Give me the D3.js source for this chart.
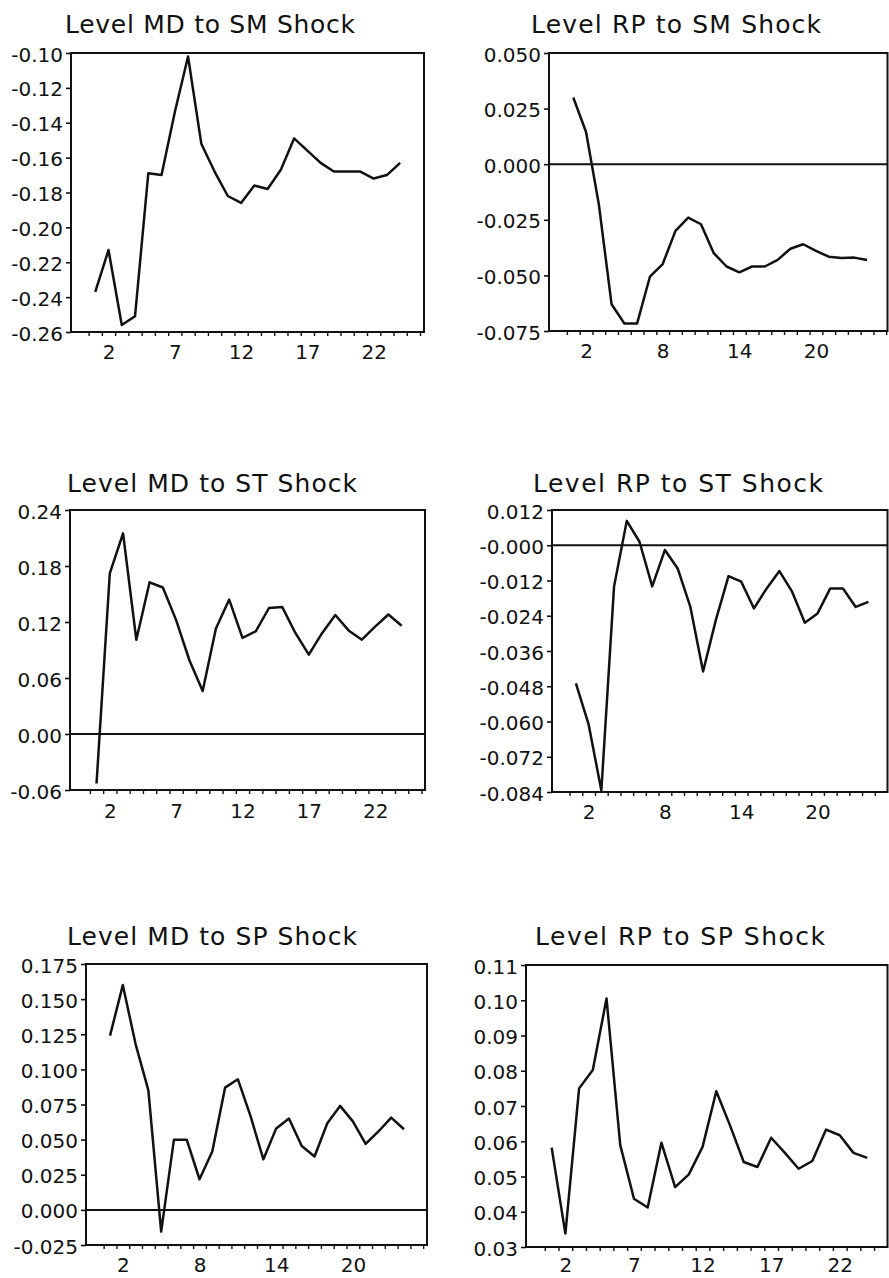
<!DOCTYPE html>
<html>
<head>
<meta charset="utf-8">
<script src="https://cdn.jsdelivr.net/npm/d3@7"></script>
<style>
  html, body { margin: 0; padding: 0; background: #fff; }
  svg { display: block; }
  text { font-family: "DejaVu Sans", sans-serif; fill: #111; }
</style>
</head>
<body>
<svg id="chart" width="889" height="1278"></svg>
<script>
// ---------------- DATA ----------------
const periods = [1,2,3,4,5,6,7,8,9,10,11,12,13,14,15,16,17,18,19,20,21,22,23,24];

const titles = [
  "Level MD to SM Shock", "Level RP to SM Shock",
  "Level MD to ST Shock", "Level RP to ST Shock",
  "Level MD to SP Shock", "Level RP to SP Shock"
];

const mdSM = [-0.237,-0.213,-0.256,-0.251,-0.169,-0.170,-0.134,-0.102,-0.152,-0.168,-0.182,-0.186,
              -0.176,-0.178,-0.167,-0.149,-0.156,-0.163,-0.168,-0.168,-0.168,-0.172,-0.170,-0.163];
const rpSM = [0.030,0.0145,-0.018,-0.063,-0.0716,-0.0716,-0.0506,-0.0449,-0.030,-0.024,-0.027,-0.040,
              -0.046,-0.0486,-0.046,-0.046,-0.043,-0.038,-0.036,-0.039,-0.0416,-0.0422,-0.042,-0.0431];
const mdST = [-0.053,0.172,0.215,0.101,0.1625,0.157,0.122,0.079,0.046,0.113,0.144,0.103,
              0.110,0.135,0.136,0.108,0.085,0.108,0.1275,0.111,0.101,0.115,0.128,0.116];
const rpST = [-0.047,-0.061,-0.0835,-0.014,0.0083,0.0012,-0.014,-0.0016,-0.0079,-0.021,-0.043,-0.0255,
              -0.0105,-0.0124,-0.0215,-0.0147,-0.0088,-0.0158,-0.0264,-0.0232,-0.0147,-0.0147,-0.021,-0.0193];
const mdSP = [0.124,0.160,0.118,0.085,-0.0155,0.050,0.050,0.0218,0.0415,0.087,0.093,0.0665,
              0.036,0.058,0.065,0.0455,0.038,0.0617,0.074,0.063,0.047,0.0558,0.0657,0.0574];
const rpSP = [0.0582,0.0338,0.075,0.0802,0.1005,0.0589,0.0437,0.0412,0.0596,0.047,0.0506,0.0584,
              0.0742,0.0645,0.0541,0.0527,0.061,0.0567,0.0522,0.0544,0.0633,0.0617,0.0567,0.0553];

const yTicksMdSM  = [-0.10,-0.12,-0.14,-0.16,-0.18,-0.20,-0.22,-0.24,-0.26];
const yLabelsMdSM = ["-0.10","-0.12","-0.14","-0.16","-0.18","-0.20","-0.22","-0.24","-0.26"];
const yTicksRpSM  = [0.050,0.025,0.000,-0.025,-0.050,-0.075];
const yLabelsRpSM = ["0.050","0.025","0.000","-0.025","-0.050","-0.075"];
const yTicksMdST  = [0.24,0.18,0.12,0.06,0.00,-0.06];
const yLabelsMdST = ["0.24","0.18","0.12","0.06","0.00","-0.06"];
const yTicksRpST  = [0.012,0.000,-0.012,-0.024,-0.036,-0.048,-0.060,-0.072,-0.084];
const yLabelsRpST = ["0.012","-0.000","-0.012","-0.024","-0.036","-0.048","-0.060","-0.072","-0.084"];
const yTicksMdSP  = [0.175,0.150,0.125,0.100,0.075,0.050,0.025,0.000,-0.025];
const yLabelsMdSP = ["0.175","0.150","0.125","0.100","0.075","0.050","0.025","0.000","-0.025"];
const yTicksRpSP  = [0.11,0.10,0.09,0.08,0.07,0.06,0.05,0.04,0.03];
const yLabelsRpSP = ["0.11","0.10","0.09","0.08","0.07","0.06","0.05","0.04","0.03"];

const xTicksA = [2,7,12,17,22];
const xTicksB = [2,8,14,20];
const minorTicks = [0.5,1.5,2.5,3.5,4.5,5.5,6.5,7.5,8.5,9.5,10.5,11.5,12.5,13.5,14.5,15.5,16.5,17.5,18.5,19.5,20.5,21.5,22.5,23.5,24.5,25.5];

// ---------------- LAYOUT ----------------
const panels = [
  {title: titles[0], data: mdSM, yT: yTicksMdSM, yL: yLabelsMdSM, xT: xTicksA, zero: false,
   box: {l: 71, r: 424, t: 53, b: 332}, xd: [-0.83, 25.8], tx: 210, ty: 33, xpad: 13},
  {title: titles[1], data: rpSM, yT: yTicksRpSM, yL: yLabelsRpSM, xT: xTicksB, zero: true,
   box: {l: 549, r: 887.5, t: 53, b: 331}, xd: [-0.9, 25.6], tx: 676, ty: 33, xpad: 13},
  {title: titles[2], data: mdST, yT: yTicksMdST, yL: yLabelsMdST, xT: xTicksA, zero: true,
   box: {l: 70, r: 425, t: 510, b: 790}, xd: [-1.0, 25.76], tx: 212, ty: 492, xpad: 14},
  {title: titles[3], data: rpST, yT: yTicksRpST, yL: yLabelsRpST, xT: xTicksB, zero: true,
   box: {l: 552, r: 887.5, t: 510, b: 792}, xd: [-0.88, 25.5], tx: 678, ty: 492, xpad: 13},
  {title: titles[4], data: mdSP, yT: yTicksMdSP, yL: yLabelsMdSP, xT: xTicksB, zero: true,
   box: {l: 86, r: 427, t: 964, b: 1245}, xd: [-0.88, 25.8], tx: 212, ty: 945, xpad: 13},
  {title: titles[5], data: rpSP, yT: yTicksRpSP, yL: yLabelsRpSP, xT: xTicksA, zero: false,
   box: {l: 526, r: 887.5, t: 965, b: 1247}, xd: [-0.87, 25.48], tx: 680, ty: 945, xpad: 11}
];

const svg = d3.select("#chart");

panels.forEach(p => {
  const g = svg.append("g");
  const b = p.box;
  const yMin = d3.min(p.yT), yMax = d3.max(p.yT);
  const x = d3.scaleLinear().domain(p.xd).range([b.l, b.r]);
  const y = d3.scaleLinear().domain([yMin, yMax]).range([b.b, b.t]);

  // title
  g.append("text")
    .attr("x", p.tx).attr("y", p.ty)
    .attr("text-anchor", "middle")
    .attr("font-size", 25)
    .attr("textLength", 290)
    .attr("lengthAdjust", "spacing")
    .text(p.title);

  // y axis
  const yAxis = d3.axisLeft(y)
    .tickValues(p.yT)
    .tickFormat((d, i) => p.yL[i])
    .tickSize(5).tickPadding(3);
  const ya = g.append("g").attr("transform", `translate(${b.l},0)`).call(yAxis);
  ya.select(".domain").remove();
  ya.selectAll(".tick line").attr("stroke", "#111").attr("stroke-width", 1.6);
  ya.selectAll(".tick text")
    .attr("font-size", 20).attr("font-family", "DejaVu Sans, sans-serif")
    .attr("fill", "#111").attr("dy", "0.4em");

  // x minor ticks
  const xMinor = d3.axisBottom(x)
    .tickValues(minorTicks.filter(v => v > p.xd[0] && v < p.xd[1]))
    .tickFormat("")
    .tickSize(4);
  const xm = g.append("g").attr("transform", `translate(0,${b.b})`).call(xMinor);
  xm.select(".domain").remove();
  xm.selectAll(".tick line").attr("stroke", "#111").attr("stroke-width", 1.4);

  // x labels
  const xAxis = d3.axisBottom(x).tickValues(p.xT).tickSize(0).tickPadding(p.xpad);
  const xa = g.append("g").attr("transform", `translate(0,${b.b})`).call(xAxis);
  xa.select(".domain").remove();
  xa.selectAll(".tick text")
    .attr("font-size", 20).attr("font-family", "DejaVu Sans, sans-serif")
    .attr("fill", "#111");

  // frame
  g.append("rect")
    .attr("x", b.l).attr("y", b.t)
    .attr("width", b.r - b.l).attr("height", b.b - b.t)
    .attr("fill", "none").attr("stroke", "#111").attr("stroke-width", 2);

  // zero line
  if (p.zero) {
    g.append("line")
      .attr("x1", b.l).attr("x2", b.r)
      .attr("y1", y(0)).attr("y2", y(0))
      .attr("stroke", "#111").attr("stroke-width", 2);
  }

  // series line
  const line = d3.line().x((d, i) => x(periods[i])).y(d => y(d));
  g.append("path")
    .datum(p.data)
    .attr("d", line)
    .attr("fill", "none")
    .attr("stroke", "#111")
    .attr("stroke-width", 2.5)
    .attr("stroke-linejoin", "round");
});
</script>
</body>
</html>
